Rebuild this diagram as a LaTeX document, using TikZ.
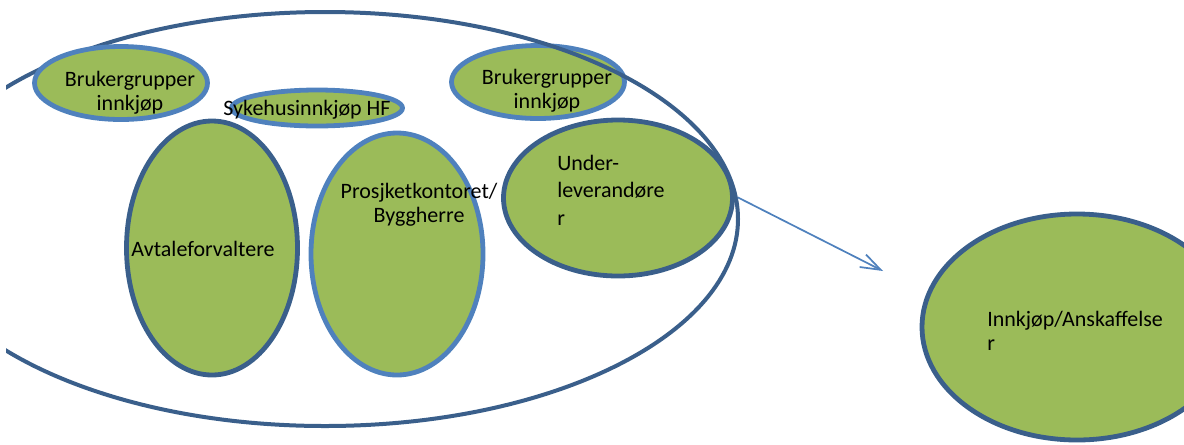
\documentclass[tikz,border=0pt]{standalone}
\usepackage{fontspec}
\setmainfont{Carlito}
\usetikzlibrary{shapes.geometric,arrows.meta}
\definecolor{leafgreen}{HTML}{9BBB59}
\definecolor{paleblue}{HTML}{4F81BD}
\definecolor{deepblue}{HTML}{3A5F8B}
\def\px{0.75pt}
\tikzset{
  blob/.style 2 args={ellipse, inner sep=0pt, fill=leafgreen,
    minimum width=#1*\px, minimum height=#2*\px},
  rim light/.style={draw=paleblue, line width=3.6pt},
  rim dark/.style={draw=deepblue, line width=3.6pt},
  caption/.style={inner sep=0pt, font=\fontsize{16.5}{18}\selectfont}
}
\begin{document}
\begin{tikzpicture}[x=0.75pt, y=-0.75pt]
  \useasboundingbox (0,0) rectangle (1184,444);
  \clip (6,0) rectangle (1184,444);
  % ellipses inside the group
  \node (under) [blob={229}{156}, rim dark] at (618,198) {};
  \node (brukR) [blob={173}{73}, rim light] at (538,82) {};
  \node (syke) [blob={171}{36}, rim light] at (317,108) {};
  \node (avtale) [blob={171}{254}, rim dark] at (212,248) {};
  \node (prosj) [blob={172}{242}, rim light] at (397,254) {};
  \node (grp) [ellipse, inner sep=0pt, draw=deepblue, line width=3pt,
    minimum width=826*\px, minimum height=414*\px] at (325,219) {};
  \node (brukL) [blob={173}{73}, rim light] at (121,83) {};
  % target
  \node (innkjop) [blob={310}{226}, rim dark] at (1077,327) {};
  \coordinate (tip) at (883,271);
  \draw[paleblue, line width=1.3pt, -{Straight Barb[length=15pt,width=10.5pt]}] (grp.3) -- (tip);
  % texts (base = last line)
  \node (tBrukL) [caption, align=center, anchor=base] at (130,110) {Brukergrupper\\innkjøp};
  \node (tSyke) [caption, anchor=base] at (307,115) {Sykehusinnkjøp HF};
  \node (tBrukR) [caption, align=center, anchor=base] at (547,108) {Brukergrupper\\innkjøp};
  \node (tUnder) [caption, align=left, anchor=base west, font=\fontsize{16.5}{20.5}\selectfont] at (557,225) {Under-\\leverandøre\\r};
  \node (tAvtale) [caption, anchor=base] at (203,256) {Avtaleforvaltere};
  \node (tProsj) [caption, align=center, anchor=base] at (419,222) {Prosjketkontoret/\\Byggherre};
  \node (tInnkjop) [caption, align=left, anchor=base west] at (987,350) {Innkjøp/Anskaffelse\\r};
\end{tikzpicture}
\end{document}
